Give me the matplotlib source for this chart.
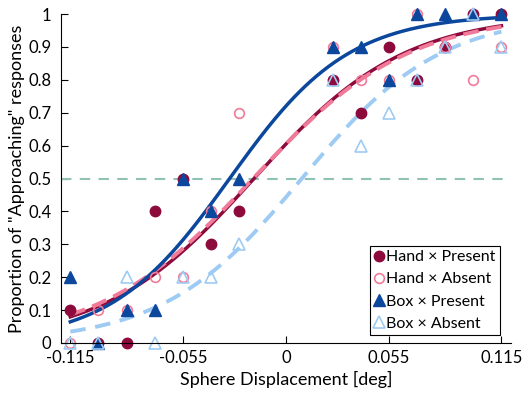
import numpy as np
import matplotlib
matplotlib.use("Agg")
import matplotlib.pyplot as plt
from matplotlib.lines import Line2D

plt.rcParams['font.family'] = ['Lato', 'DejaVu Sans']

# sphere displacement [deg]
disp = [-0.115, -0.1, -0.085, -0.07, -0.055, -0.04, -0.025,
        0.025, 0.04, 0.055, 0.07, 0.085, 0.1, 0.115]

# proportion of "approaching" responses per condition
hand_present = [0.1, 0.0, 0.0, 0.4, 0.5, 0.3, 0.4, 0.8, 0.7, 0.9, 0.8, 0.9, 1.0, 1.0]
hand_absent = [0.0, 0.1, 0.1, 0.2, 0.2, 0.4, 0.7, 0.9, 0.8, 0.8, 1.0, 0.9, 0.8, 0.9]
box_present = [0.2, 0.0, 0.1, 0.1, 0.5, 0.4, 0.5, 0.9, 0.9, 0.8, 1.0, 1.0, 1.0, 1.0]
box_absent = [0.0, 0.0, 0.2, 0.0, 0.2, 0.2, 0.3, 0.8, 0.6, 0.7, 0.8, 0.9, 1.0, 0.9]

xticks = [-0.115, -0.055, 0, 0.055, 0.115]
yticks = [0, 0.1, 0.2, 0.3, 0.4, 0.5, 0.6, 0.7, 0.8, 0.9, 1]

c_hp = '#8c0a3c'
c_ha = '#f07a98'
c_bp = '#0b479c'
c_ba = '#9ecbf3'


def fit_logistic(x, p, n=10):
    # binomial max likelihood on a grid
    x = np.asarray(x)
    k_obs = np.asarray(p) * n
    mus = np.linspace(-0.08, 0.08, 321)
    ks = np.linspace(5, 80, 301)
    M, K = np.meshgrid(mus, ks)
    pr = 1 / (1 + np.exp(-K[..., None] * (x - M[..., None])))
    pr = np.clip(pr, 1e-9, 1 - 1e-9)
    ll = (k_obs * np.log(pr) + (n - k_obs) * np.log(1 - pr)).sum(-1)
    i = np.unravel_index(np.argmax(ll), ll.shape)
    return M[i], K[i]


xs = np.linspace(-0.115, 0.115, 300)


def curve(x, p):
    mu, k = fit_logistic(x, p)
    return 1 / (1 + np.exp(-k * (xs - mu)))


fig = plt.figure(figsize=(5.25, 4.03), dpi=100)
ax = fig.add_axes([0.116, 0.149, 0.857, 0.816])

ax.plot([-0.12, 0.118], [0.5, 0.5], '--', color='#8fc1b5', lw=1.5, dashes=(5, 4))

ax.plot(xs, curve(disp, hand_present), color=c_hp, lw=2.5)
ax.plot(xs, curve(disp, hand_absent), color=c_ha, lw=2.8, ls='--', dashes=(4, 2))
ax.plot(xs, curve(disp, box_present), color=c_bp, lw=2.5)
ax.plot(xs, curve(disp, box_absent), color=c_ba, lw=2.8, ls='--', dashes=(4, 2.5))

ax.plot(disp, hand_present, 'o', color=c_hp, ms=7.5, clip_on=False)
ax.plot(disp, hand_absent, 'o', mfc='none', mec=c_ha, mew=1.2, ms=7, clip_on=False)
ax.plot(disp, box_present, '^', color=c_bp, ms=8.5, clip_on=False)
ax.plot(disp, box_absent, '^', mfc='none', mec=c_ba, mew=1.2, ms=8.5, clip_on=False)

ax.set_xlim(-0.12, 0.12)
ax.set_ylim(0, 1)
ax.set_xticks(xticks)
ax.set_xticklabels(['-0.115', '-0.055', '0', '0.055', '0.115'])
ax.set_yticks(yticks)
ax.set_yticklabels(['0', '0.1', '0.2', '0.3', '0.4', '0.5', '0.6', '0.7', '0.8', '0.9', '1'])
ax.tick_params(direction='in', length=5, labelsize=12)
ax.tick_params(axis='x', pad=5)
ax.tick_params(axis='y', pad=7)
for s in ['top', 'right']:
    ax.spines[s].set_visible(False)

ax.set_xlabel('Sphere Displacement [deg]', fontsize=13)
ax.set_ylabel('Proportion of "Approaching" responses', fontsize=13, labelpad=2)

handles = [
    Line2D([], [], ls='none', marker='o', color=c_hp, ms=7.5),
    Line2D([], [], ls='none', marker='o', mfc='none', mec=c_ha, mew=1.2, ms=7),
    Line2D([], [], ls='none', marker='^', color=c_bp, ms=8.5),
    Line2D([], [], ls='none', marker='^', mfc='none', mec=c_ba, mew=1.2, ms=8.5),
]
labels = ['Hand × Present', 'Hand × Absent', 'Box × Present', 'Box × Absent']
leg = ax.legend(handles, labels, loc='lower right', bbox_to_anchor=(0.975, 0.025),
                fontsize=11.5, handlelength=0.6, handletextpad=0.15, borderpad=0.25,
                labelspacing=0.5, fancybox=False, framealpha=1, borderaxespad=0)
leg.get_frame().set_edgecolor('black')
leg.get_frame().set_linewidth(0.8)

fig.savefig('out.png', dpi=100)
